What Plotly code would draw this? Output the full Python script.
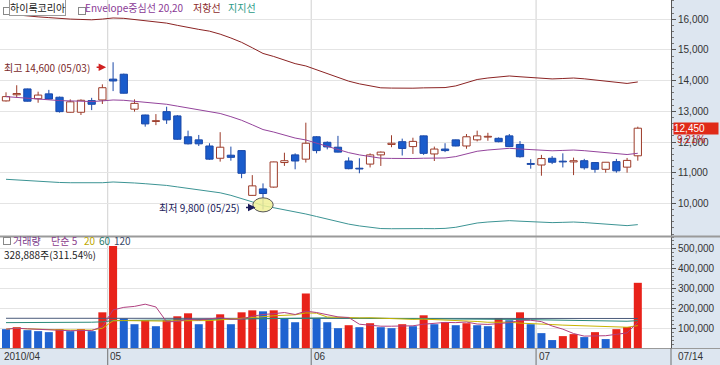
import plotly.graph_objects as go

# ---------------- data ----------------
dates = ["04/19","04/20","04/21","04/22","04/23","04/26","04/27","04/28","04/29","04/30",
         "05/03","05/04","05/06","05/07","05/10","05/11","05/12","05/13","05/14","05/17",
         "05/18","05/19","05/20","05/24","05/25","05/26","05/27","05/28","05/31",
         "06/01","06/03","06/04","06/07","06/08","06/09","06/10","06/11","06/14","06/15",
         "06/16","06/17","06/18","06/21","06/22","06/23","06/24","06/25","06/28","06/29","06/30",
         "07/01","07/02","07/05","07/06","07/07","07/08","07/09","07/12","07/13","07/14"]
opens  = [13340,13540,13730,13410,13570,13460,12970,12970,13350,13370,
          14050,14210,13070,12880,12670,12990,12850,12170,12070,11870,
          11470,11570,11720,10260,10470,10530,11330,11580,11440,
          12170,11990,11830,11380,11140,11280,11580,11920,12010,11850,
          12200,11610,11770,12070,11870,12070,12160,12120,12200,11920,11300,
          11250,11470,11370,11350,11390,11330,11110,11360,11180,11550]
highs  = [13620,13850,13740,13640,13700,13480,13390,13390,13440,13880,
          14600,14230,13390,12890,12910,13150,12880,12370,12230,11960,
          12320,11850,11730,10920,10650,11360,11650,11630,12630,
          12190,12020,12200,11500,11470,11630,11690,12220,12110,12140,
          12210,11850,11960,12080,12260,12370,12300,12150,12260,12030,11440,
          11580,11540,11630,11490,11450,11340,11340,11450,11480,12500]
lows   = [13320,13440,13320,13280,13380,12960,12960,12880,13040,13240,
          13660,13580,12990,12500,12550,12590,12070,11920,11870,11420,
          11360,11390,10820,10250,9800,10510,11220,11110,11330,
          11630,11760,11660,11110,10980,11170,11220,11830,11560,11610,
          11580,11380,11670,11860,11780,12020,12040,11990,11840,11490,11130,
          10900,11280,11170,10920,11100,11000,11000,11000,11000,11390]
closes = [13480,13580,13330,13530,13400,12990,13310,13360,13230,13770,
          13990,13590,13260,12590,12690,12720,12090,11940,11940,11440,
          11830,11500,10980,10570,10320,11350,11390,11380,11960,
          11720,11840,11670,11130,11120,11580,11670,11960,11790,12020,
          11630,11770,11720,11870,12170,12200,12180,12010,11850,11520,11270,
          11460,11340,11350,11390,11160,11110,11340,11060,11400,12450]
volumes = [95000,105000,90000,85000,80000,95000,85000,95000,85000,180000,
           515000,150000,120000,140000,110000,140000,160000,175000,120000,140000,
           170000,120000,180000,190000,185000,190000,150000,130000,275000,
           150000,130000,100000,115000,105000,125000,105000,100000,120000,110000,
           165000,120000,130000,115000,125000,115000,110000,150000,140000,180000,120000,
           75000,40000,60000,70000,55000,80000,45000,95000,105568,328888]
# Envelope centre line (20-day simple MA)
env_mid = [13480,13450,13420,13400,13380,13350,13340,13330,13320,13340,
           13370,13360,13330,13300,13270,13230,13170,13110,13060,13012,
           12930,12826,12708,12560,12406,12324,12228,12129,12066,
           11963,11856,11760,11653,11580,11524,11472,11465,11458,11462,
           11471,11468,11479,11524,11604,11698,11739,11770,11794,11772,11749,
           11730,11714,11725,11738,11717,11689,11658,11622,11591,11632]
env_pct = 20
# long volume averages (need history before the window)
vol_ma60 = [128000,128000,128000,129000,129000,129000,130000,130000,130000,132000,
            138000,139000,139000,140000,140000,141000,142000,143000,143000,144000,
            145000,145000,146000,147000,148000,149000,149000,150000,152000,
            152000,152000,151000,151000,150000,150000,149000,149000,148000,148000,
            148000,147000,147000,146000,146000,145000,145000,145000,144000,144000,143000,
            142000,141000,140000,139000,138000,137000,136000,136000,135000,138000]
vol_ma120 = [150000]*20 + [151000]*20 + [149000]*20
price_ticks = [10000, 11000, 12000, 13000, 14000, 15000, 16000]
vol_ticks = [100000, 200000, 300000, 400000, 500000]
month_labels = ["2010/04", "05", "06", "07"]
stock_name = "하이록코리아"

# ---------------- geometry ----------------
W, H = 720, 365
PLOT_R = 671 / W
def py(px):  # pixel row -> paper y
    return 1 - px / H

n = len(closes)
xs = list(range(n))
X_RANGE = [-0.56, 62.1]
Y_RANGE = [8935, 16630]
V_RANGE = [0, 560000]

UP_LINE = "#9c3a28"
DN_FILL = "#1a5ccc"
DN_LINE = "#1a48a8"
VOL_UP = "#e8221a"
VOL_DN = "#1f62d0"
BG = "#dde6f0"

def rolling(vals, k):
    out = []
    for i in range(len(vals)):
        seg = vals[max(0, i - k + 1): i + 1]
        out.append(sum(seg) / len(seg))
    return out

fig = go.Figure()

# candle wicks (split at body so hollow bodies stay clean)
wick = {True: ([], []), False: ([], [])}
for i in range(n):
    up = closes[i] >= opens[i]
    top, bot = max(opens[i], closes[i]), min(opens[i], closes[i])
    wx, wy = wick[up]
    wx += [i, i, None, i, i, None]
    wy += [highs[i], top, None, bot, lows[i], None]
for up, col in ((True, UP_LINE), (False, DN_LINE)):
    fig.add_trace(go.Scatter(x=wick[up][0], y=wick[up][1], mode="lines",
                             line=dict(color=col, width=1), hoverinfo="skip",
                             showlegend=False, xaxis="x", yaxis="y"))

# candle bodies
for up in (True, False):
    idx = [i for i in range(n) if (closes[i] >= opens[i]) == up]
    fig.add_trace(go.Bar(
        x=idx,
        base=[min(opens[i], closes[i]) for i in idx],
        y=[max(abs(closes[i] - opens[i]), 25) for i in idx],
        width=0.68,
        marker=dict(color="white" if up else DN_FILL,
                    line=dict(color=UP_LINE if up else DN_LINE, width=1)),
        showlegend=False, hoverinfo="skip", xaxis="x", yaxis="y"))

# envelope
upper = [m * (1 + env_pct / 100) for m in env_mid]
lower = [m * (1 - env_pct / 100) for m in env_mid]
fig.add_trace(go.Scatter(x=xs, y=upper, mode="lines", line=dict(color="#8b2323", width=1),
                         showlegend=False, hoverinfo="skip", xaxis="x", yaxis="y"))
fig.add_trace(go.Scatter(x=xs, y=env_mid, mode="lines", line=dict(color="#94449c", width=1),
                         showlegend=False, hoverinfo="skip", xaxis="x", yaxis="y"))
fig.add_trace(go.Scatter(x=xs, y=lower, mode="lines", line=dict(color="#3c9494", width=1),
                         showlegend=False, hoverinfo="skip", xaxis="x", yaxis="y"))

# volume bars (red when volume rose vs previous day)
vcol = [VOL_DN if i == 0 or volumes[i] < volumes[i - 1] else VOL_UP for i in range(n)]
fig.add_trace(go.Bar(x=xs, y=volumes, width=0.75, marker=dict(color=vcol, line=dict(width=0)),
                     showlegend=False, hoverinfo="skip", xaxis="x2", yaxis="y2"))
vol_ma5 = rolling(volumes, 5)
vol_ma20 = rolling(volumes, 20)
for arr, col in ((vol_ma120, "#4a5a7a"), (vol_ma60, "#2a8a7a"), (vol_ma20, "#c8b400"), (vol_ma5, "#b04080")):
    fig.add_trace(go.Scatter(x=xs, y=arr, mode="lines", line=dict(color=col, width=1),
                             showlegend=False, hoverinfo="skip", xaxis="x2", yaxis="y2"))

# ---------------- axes ----------------
tickfont = dict(family="Liberation Sans, Arial", size=10, color="#333333")
fig.update_layout(
    width=W, height=H, margin=dict(l=0, r=0, t=0, b=0),
    paper_bgcolor=BG, plot_bgcolor="white", barmode="overlay", showlegend=False,
    xaxis=dict(domain=[0, PLOT_R], range=X_RANGE, showticklabels=False, showgrid=False,
               zeroline=False, anchor="y"),
    xaxis2=dict(domain=[0, PLOT_R], range=X_RANGE, showticklabels=False, showgrid=False,
                zeroline=False, anchor="y2", matches="x"),
    yaxis=dict(domain=[py(236), 1], range=Y_RANGE, side="right", anchor="x",
               tickvals=price_ticks, ticktext=[f"{v:,}" for v in price_ticks],
               tickfont=tickfont, ticks="outside", ticklen=4, tickcolor="#555",
               showline=True, linecolor="#555", linewidth=1,
               gridcolor="#e4e4e4", zeroline=False,
               minor=dict(ticks="outside", ticklen=2, dtick=200, tickcolor="#777", showgrid=False)),
    yaxis2=dict(domain=[py(348), py(237)], range=V_RANGE, side="right", anchor="x2",
                tickvals=vol_ticks, ticktext=[f"{v:,}" for v in vol_ticks],
                tickfont=tickfont, ticks="outside", ticklen=4, tickcolor="#555",
                showline=True, linecolor="#555", linewidth=1,
                gridcolor="#e4e4e4", zeroline=False,
                minor=dict(ticks="outside", ticklen=2, dtick=20000, tickcolor="#777", showgrid=False)),
)

# month boundaries
month_idx = [i for i in range(1, n) if dates[i][:2] != dates[i - 1][:2]]
shapes = []
for i in month_idx:
    for ya in ("y", "y2"):
        shapes.append(dict(type="line", xref="x", yref=f"{ya} domain", x0=i - 0.5, x1=i - 0.5,
                           y0=0, y1=1, line=dict(color="#d0d0d0", width=1), layer="below"))
    shapes.append(dict(type="line", xref="x", yref="paper", x0=i - 0.5, x1=i - 0.5,
                       y0=0, y1=py(349), line=dict(color="#707070", width=1)))
# panel separators / borders
shapes.append(dict(type="line", xref="paper", yref="paper", x0=0, x1=1, y0=py(236.5), y1=py(236.5),
                   line=dict(color="#9a9a9a", width=2)))
shapes.append(dict(type="line", xref="paper", yref="paper", x0=0, x1=1, y0=py(348.5), y1=py(348.5),
                   line=dict(color="#9a9a9a", width=1)))
shapes.append(dict(type="line", xref="paper", yref="paper", x0=PLOT_R, x1=PLOT_R, y0=0, y1=py(348),
                   line=dict(color="#707070", width=1)))
# low marker ellipse
lo_i = min(range(n), key=lambda i: lows[i])
shapes.append(dict(type="circle", xref="x", yref="y", x0=lo_i - 0.95, x1=lo_i + 0.95,
                   y0=lows[lo_i] - 80, y1=lows[lo_i] + 380,
                   fillcolor="rgba(240,240,150,0.85)", line=dict(color="#555", width=1)))
fig.update_layout(shapes=shapes)

ann = []
num = dict(family="Liberation Sans, Arial", size=10)
# x labels
ann.append(dict(text=month_labels[0], x=2 / W, y=py(356.5), xref="paper", yref="paper",
                xanchor="left", yanchor="middle", showarrow=False, font=dict(**num, color="#333")))
for lab, i in zip(month_labels[1:], month_idx):
    ann.append(dict(text=lab, x=i - 0.45, y=py(356.5), xref="x", yref="paper",
                    xanchor="left", yanchor="middle", showarrow=False, font=dict(**num, color="#333")))
ann.append(dict(text=dates[-1], x=676 / W, y=py(356.5), xref="paper", yref="paper",
                xanchor="left", yanchor="middle", showarrow=False, font=dict(**num, color="#333")))

# legends
kr = dict(family="Noto Sans CJK KR", size=10)
def sq(x, y):
    ann.append(dict(text="", x=x / W, y=py(y), xref="paper", yref="paper", width=4, height=4,
                    bordercolor="#888", borderwidth=1, bgcolor="white", showarrow=False))
sq(3, 7)
ann.append(dict(text=stock_name, x=9 / W, y=py(7), xref="paper", yref="paper", xanchor="left",
                yanchor="middle", showarrow=False, font=dict(**kr, color="#222"),
                bordercolor="#999", borderwidth=1, borderpad=0, bgcolor="white"))
sq(78, 7)
ann.append(dict(text=f"Envelope중심선 {env_pct},{env_pct}", x=83 / W, y=py(7), xref="paper", yref="paper",
                xanchor="left", yanchor="middle", showarrow=False, font=dict(**kr, color="#8a3a96")))
ann.append(dict(text="저항선", x=191 / W, y=py(7), xref="paper", yref="paper",
                xanchor="left", yanchor="middle", showarrow=False, font=dict(**kr, color="#8b2a2a")))
ann.append(dict(text="지지선", x=226 / W, y=py(7), xref="paper", yref="paper",
                xanchor="left", yanchor="middle", showarrow=False, font=dict(**kr, color="#2a9a86")))

sq(3, 241)
vol_leg = [("거래량", 11, "#7a3a8a"), ("단순 5", 49, "#8a3a8a"), ("20", 82, "#c0a800"),
           ("60", 97, "#2a7a6a"), ("120", 112, "#3a4a6a")]
for t, x, c in vol_leg:
    ann.append(dict(text=t, x=x / W, y=py(240.5), xref="paper", yref="paper", xanchor="left",
                    yanchor="middle", showarrow=False, font=dict(**kr, color=c)))
pct_v = (volumes[-1] / volumes[-2]) * 100
ann.append(dict(text=f"{volumes[-1]:,}주({pct_v:.2f}%)", x=2 / W, y=py(254), xref="paper", yref="paper",
                xanchor="left", yanchor="middle", showarrow=False, font=dict(**kr, color="#222")))

# high / low annotations
hi_i = max(range(n), key=lambda i: highs[i])
ann.append(dict(text=f"최고 {highs[hi_i]:,} ({dates[hi_i]})", x=hi_i - 1.95, y=highs[hi_i], xref="x", yref="y",
                xanchor="right", yanchor="middle", yshift=-5, showarrow=False,
                font=dict(**kr, color="#7a2a2a")))
ann.append(dict(text="", x=hi_i - 0.65, y=highs[hi_i], ax=-11, ay=0, xref="x", yref="y", yshift=-5,
                showarrow=True, arrowhead=2, arrowsize=1, arrowwidth=1.5, arrowcolor="#d02020"))
ann.append(dict(text=f"최저 {lows[lo_i]:,} ({dates[lo_i]})", x=lo_i - 1.95, y=lows[lo_i], xref="x", yref="y",
                xanchor="right", yanchor="middle", yshift=2, showarrow=False,
                font=dict(**kr, color="#1a1a5a")))
ann.append(dict(text="", x=lo_i - 0.7, y=lows[lo_i], ax=-11, ay=0, xref="x", yref="y", yshift=2,
                showarrow=True, arrowhead=2, arrowsize=1, arrowwidth=1.5, arrowcolor="#1a1a5a"))

# last price box
chg = (closes[-1] / closes[-2] - 1) * 100
ann.append(dict(text=f"{closes[-1]:,}", x=673 / W, y=closes[-1], xref="paper", yref="y",
                xanchor="left", yanchor="middle", showarrow=False, width=44, align="left",
                bgcolor="#e02a18", borderpad=0, font=dict(**num, color="white")))
ann.append(dict(text=f"{chg:.2f}%", x=675 / W, y=closes[-1], yshift=-11, xref="paper", yref="y",
                xanchor="left", yanchor="middle", showarrow=False,
                font=dict(**num, color="#c02020")))
fig.update_layout(annotations=ann)

fig.write_html("out.html", config={"displayModeBar": False},
               post_script="document.body.style.margin='0';document.body.style.padding='0';")
